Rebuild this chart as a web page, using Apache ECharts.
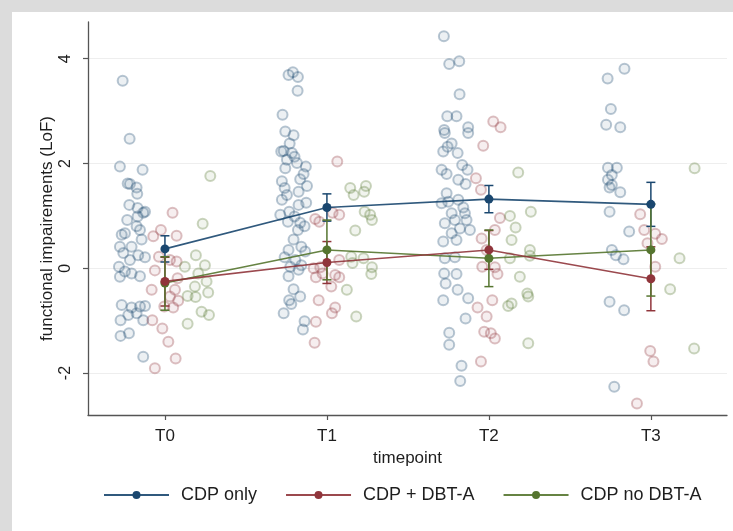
<!DOCTYPE html>
<html>
<head>
<meta charset="utf-8">
<script src="https://cdn.jsdelivr.net/npm/echarts@6/dist/echarts.min.js"></script>
<style>
  html, body { margin: 0; padding: 0; background: #dcdcdc; }
  #frame { position: absolute; left: 0; top: 0; width: 733px; height: 531px; background: #dcdcdc; }
  #chart { position: absolute; left: 12px; top: 12px; width: 721px; height: 519px; background: #ffffff; }
</style>
</head>
<body>
<div id="frame"><div id="chart"></div></div>
<script>
// Timepoints on the x axis and y tick values
const timepoints = ['T0', 'T1', 'T2', 'T3'];
const yTicks = [-2, 0, 2, 4];
const groupNames = ['CDP only', 'CDP + DBT-A', 'CDP no DBT-A'];

// Individual observations: [jittered timepoint position, LoF score]
const cdpOnlyObs = [
  [-0.261, 3.58], [-0.218, 2.47], [-0.278, 1.94], [-0.138, 1.88], [-0.230, 1.62], [-0.216, 1.61],
  [-0.175, 1.54], [-0.171, 1.42], [-0.220, 1.21], [-0.169, 1.15], [-0.134, 1.06], [-0.123, 1.08],
  [-0.233, 0.92], [-0.169, 0.99], [-0.175, 0.80], [-0.154, 0.73], [-0.267, 0.64], [-0.247, 0.67],
  [-0.144, 0.55], [-0.206, 0.41], [-0.278, 0.41], [-0.257, 0.29], [-0.165, 0.25], [-0.123, 0.21],
  [-0.216, 0.16], [-0.284, 0.03], [-0.247, -0.06], [-0.206, -0.10], [-0.154, -0.15], [-0.278, -0.16],
  [-0.267, -0.70], [-0.206, -0.75], [-0.154, -0.73], [-0.123, -0.72], [-0.274, -0.99], [-0.226, -0.89],
  [-0.175, -0.86], [-0.134, -0.99], [-0.274, -1.29], [-0.222, -1.24], [-0.134, -1.69],
  [0.763, 3.69], [0.790, 3.74], [0.821, 3.65], [0.819, 3.39], [0.726, 2.93], [0.743, 2.61],
  [0.794, 2.54], [0.770, 2.38], [0.718, 2.23], [0.733, 2.24], [0.784, 2.20], [0.800, 2.13],
  [0.753, 2.07], [0.815, 2.01], [0.870, 1.94], [0.743, 1.91], [0.856, 1.80], [0.722, 1.66],
  [0.835, 1.70], [0.739, 1.53], [0.877, 1.57], [0.753, 1.40], [0.825, 1.46], [0.722, 1.31],
  [0.872, 1.25], [0.825, 1.21], [0.712, 1.02], [0.767, 1.08], [0.800, 0.99], [0.759, 0.89],
  [0.835, 0.87], [0.862, 0.80], [0.821, 0.73], [0.794, 0.55], [0.842, 0.41], [0.763, 0.35],
  [0.866, 0.32], [0.739, 0.21], [0.805, 0.16], [0.842, 0.06], [0.774, 0.03], [0.825, -0.03],
  [0.763, -0.15], [0.794, -0.40], [0.835, -0.54], [0.767, -0.61], [0.780, -0.68], [0.733, -0.86],
  [0.862, -1.01], [0.852, -1.17],
  [1.722, 4.43], [1.755, 3.90], [1.817, 3.95], [1.819, 3.32], [1.743, 2.90], [1.800, 2.90],
  [1.724, 2.64], [1.728, 2.58], [1.872, 2.69], [1.872, 2.58], [1.770, 2.38], [1.745, 2.32],
  [1.718, 2.23], [1.807, 2.20], [1.708, 1.88], [1.835, 1.97], [1.739, 1.80], [1.868, 1.88],
  [1.811, 1.69], [1.856, 1.61], [1.739, 1.43], [1.749, 1.27], [1.811, 1.31], [1.708, 1.24],
  [1.842, 1.16], [1.770, 1.05], [1.852, 1.05], [1.728, 0.86], [1.790, 0.92], [1.862, 0.92],
  [1.821, 0.76], [1.883, 0.73], [1.770, 0.67], [1.718, 0.51], [1.800, 0.54], [1.728, 0.19],
  [1.790, 0.21], [1.724, -0.10], [1.800, -0.11], [1.733, -0.29], [1.807, -0.41], [1.718, -0.61],
  [1.872, -0.57], [1.856, -0.96], [1.755, -1.23], [1.755, -1.46], [1.831, -1.86], [1.823, -2.15],
  [2.733, 3.62], [2.837, 3.81], [2.753, 3.04], [2.724, 2.74], [2.811, 2.69], [2.735, 1.92],
  [2.790, 1.92], [2.759, 1.78], [2.735, 1.69], [2.759, 1.59], [2.745, 1.54], [2.811, 1.45],
  [2.745, 1.08], [2.866, 0.70], [2.759, 0.35], [2.784, 0.25], [2.831, 0.17], [2.745, -0.64],
  [2.835, -0.80], [2.774, -2.26]
];

const cdpDbtObs = [
  [0.047, 1.06], [-0.025, 0.73], [0.072, 0.62], [-0.072, 0.61], [-0.037, 0.22], [0.031, 0.16],
  [0.072, 0.13], [-0.062, -0.04], [0.078, -0.19], [-0.082, -0.41], [0.062, -0.41], [0.031, -0.54],
  [0.082, -0.62], [-0.004, -0.73], [0.051, -0.75], [-0.078, -0.99], [-0.016, -1.15], [0.021, -1.40],
  [0.066, -1.72], [-0.062, -1.91],
  [1.064, 2.04], [0.928, 0.94], [0.953, 0.89], [1.035, 1.06], [1.076, 1.02], [0.918, 0.00],
  [0.959, 0.02], [1.076, 0.16], [0.932, -0.17], [0.973, -0.10], [1.051, -0.13], [1.076, -0.17],
  [1.027, -0.35], [0.949, -0.61], [1.031, -0.86], [1.051, -0.75], [0.932, -1.02], [0.924, -1.42],
  [2.027, 2.80], [2.072, 2.69], [1.965, 2.34], [1.920, 1.72], [1.951, 1.50], [2.068, 0.96],
  [2.037, 0.73], [1.955, 0.57], [1.986, 0.35], [1.959, 0.03], [2.037, 0.02], [2.053, -0.11],
  [2.021, -0.61], [1.930, -0.75], [1.986, -0.92], [1.971, -1.21], [2.012, -1.24], [2.037, -1.34],
  [1.951, -1.78],
  [2.934, 1.03], [2.959, 0.73], [3.027, 0.66], [3.068, 0.56], [2.979, 0.48], [3.027, 0.03],
  [2.996, -1.58], [3.016, -1.78], [2.914, -2.58]
];

const cdpNoDbtObs = [
  [0.280, 1.76], [0.233, 0.85], [0.191, 0.25], [0.247, 0.06], [0.123, 0.03], [0.206, -0.10],
  [0.257, -0.25], [0.185, -0.35], [0.140, -0.53], [0.189, -0.55], [0.267, -0.46], [0.226, -0.83],
  [0.272, -0.89], [0.140, -1.06],
  [1.144, 1.53], [1.165, 1.40], [1.241, 1.57], [1.230, 1.46], [1.233, 1.08], [1.267, 1.02],
  [1.278, 0.92], [1.175, 0.72], [1.150, 0.22], [1.226, 0.19], [1.158, 0.10], [1.278, 0.02],
  [1.274, -0.11], [1.123, -0.41], [1.181, -0.92],
  [2.181, 1.83], [2.130, 1.00], [2.259, 1.08], [2.165, 0.78], [2.140, 0.54], [2.253, 0.35],
  [2.253, 0.24], [2.130, 0.19], [2.191, -0.16], [2.237, -0.48], [2.243, -0.54], [2.140, -0.67],
  [2.119, -0.72], [2.243, -1.43],
  [3.270, 1.91], [3.177, 0.19], [3.119, -0.40], [3.267, -1.53]
];

// Group means per timepoint with 95% CI bounds
const cdpOnlyMean = [0.37, 1.16, 1.32, 1.22];
const cdpOnlyLow  = [0.12, 0.90, 1.06, 0.80];
const cdpOnlyHigh = [0.62, 1.42, 1.58, 1.64];

const cdpDbtMean = [-0.25, 0.11, 0.35, -0.20];
const cdpDbtLow  = [-0.72, -0.29, -0.02, -0.81];
const cdpDbtHigh = [0.21, 0.51, 0.72, 0.41];

const cdpNoDbtMean = [-0.28, 0.35, 0.19, 0.35];
const cdpNoDbtLow  = [-0.80, -0.22, -0.35, -0.53];
const cdpNoDbtHigh = [0.22, 0.92, 0.73, 1.23];

const palette = [[26, 71, 111], [144, 53, 59], [85, 117, 47]];
const rgba = (c, a) => `rgba(${c[0]},${c[1]},${c[2]},${a})`;
const FONT = "'Liberation Sans', Arial, sans-serif";
const INK = '#1e1e1e';

const groups = [
  { obs: cdpOnlyObs,  mean: cdpOnlyMean,  low: cdpOnlyLow,  high: cdpOnlyHigh },
  { obs: cdpDbtObs,   mean: cdpDbtMean,   low: cdpDbtLow,   high: cdpDbtHigh },
  { obs: cdpNoDbtObs, mean: cdpNoDbtMean, low: cdpNoDbtLow, high: cdpNoDbtHigh }
];

const series = [];
// jittered raw points
groups.forEach((g, i) => {
  series.push({
    name: groupNames[i] + ' obs',
    type: 'scatter',
    data: g.obs,
    symbol: 'circle',
    symbolSize: 10,
    z: 2,
    silent: true,
    itemStyle: {
      color: rgba(palette[i], 0.10),
      borderColor: rgba(palette[i], 0.38),
      borderWidth: 2
    }
  });
});
// confidence interval bars
groups.forEach((g, i) => {
  series.push({
    name: groupNames[i] + ' ci',
    type: 'custom',
    z: 3,
    silent: true,
    data: timepoints.map((t, k) => [k, g.low[k], g.high[k]]),
    encode: { x: 0, y: [1, 2] },
    renderItem: (params, api) => {
      const x = api.value(0);
      const pLo = api.coord([x, api.value(1)]);
      const pHi = api.coord([x, api.value(2)]);
      const half = 4.5;
      const style = { stroke: rgba(palette[i], 1), lineWidth: 1.5 };
      return {
        type: 'group',
        children: [
          { type: 'line', shape: { x1: pLo[0], y1: pLo[1], x2: pHi[0], y2: pHi[1] }, style },
          { type: 'line', shape: { x1: pLo[0] - half, y1: pLo[1], x2: pLo[0] + half, y2: pLo[1] }, style },
          { type: 'line', shape: { x1: pHi[0] - half, y1: pHi[1], x2: pHi[0] + half, y2: pHi[1] }, style }
        ]
      };
    }
  });
});
// mean profiles (drawn last so they sit on top)
[2, 1, 0].forEach(i => {
  const g = groups[i];
  series.push({
    name: groupNames[i],
    type: 'line',
    data: timepoints.map((t, k) => [k, g.mean[k]]),
    symbol: 'circle',
    symbolSize: 9,
    showSymbol: true,
    z: 4 + (2 - i),
    silent: true,
    lineStyle: { color: rgba(palette[i], 0.9), width: 1.6 },
    itemStyle: { color: rgba(palette[i], 1), borderWidth: 0 }
  });
});

const chart = echarts.init(document.getElementById('chart'), null, { renderer: 'canvas' });
chart.setOption({
  animation: false,
  backgroundColor: '#ffffff',
  textStyle: { fontFamily: FONT },
  grid: { left: 76, top: 10, right: 6, bottom: 116, containLabel: false },
  legend: {
    data: groupNames,
    left: 86,
    top: 469,
    itemWidth: 65,
    itemHeight: 10,
    itemGap: 28,
    textStyle: { fontFamily: FONT, fontSize: 18, color: INK, padding: [0, 0, 0, 7] }
  },
  xAxis: {
    type: 'value',
    min: -0.475,
    max: 3.47,
    name: 'timepoint',
    nameLocation: 'middle',
    nameGap: 32,
    nameTextStyle: { fontFamily: FONT, fontSize: 17, color: INK },
    axisLine: { show: true, onZero: false, lineStyle: { color: '#555', width: 1.3 } },
    axisTick: { show: true, customValues: [0, 1, 2, 3], length: 5, lineStyle: { color: '#555', width: 1.2 } },
    axisLabel: {
      customValues: [0, 1, 2, 3],
      formatter: v => timepoints[Math.round(v)],
      margin: 13,
      fontFamily: FONT, fontSize: 17, color: INK
    },
    splitLine: { show: false }
  },
  yAxis: {
    type: 'value',
    min: -2.8,
    max: 4.7,
    name: 'functional impairements (LoF)',
    nameLocation: 'middle',
    nameGap: 32,
    nameMoveOverlap: false,
    nameTextStyle: { fontFamily: FONT, fontSize: 17, color: INK, padding: [0, 20, 0, 0] },
    axisLine: { show: true, onZero: false, lineStyle: { color: '#555', width: 1.3 } },
    axisTick: { show: true, customValues: yTicks, length: 5, lineStyle: { color: '#555', width: 1.2 } },
    axisLabel: {
      customValues: yTicks,
      rotate: 90,
      margin: 14,
      fontFamily: FONT, fontSize: 16, color: INK
    },
    splitLine: { show: true, lineStyle: { color: '#eeeeee', width: 1.2 } }
  },
  series: series
});
</script>
</body>
</html>
